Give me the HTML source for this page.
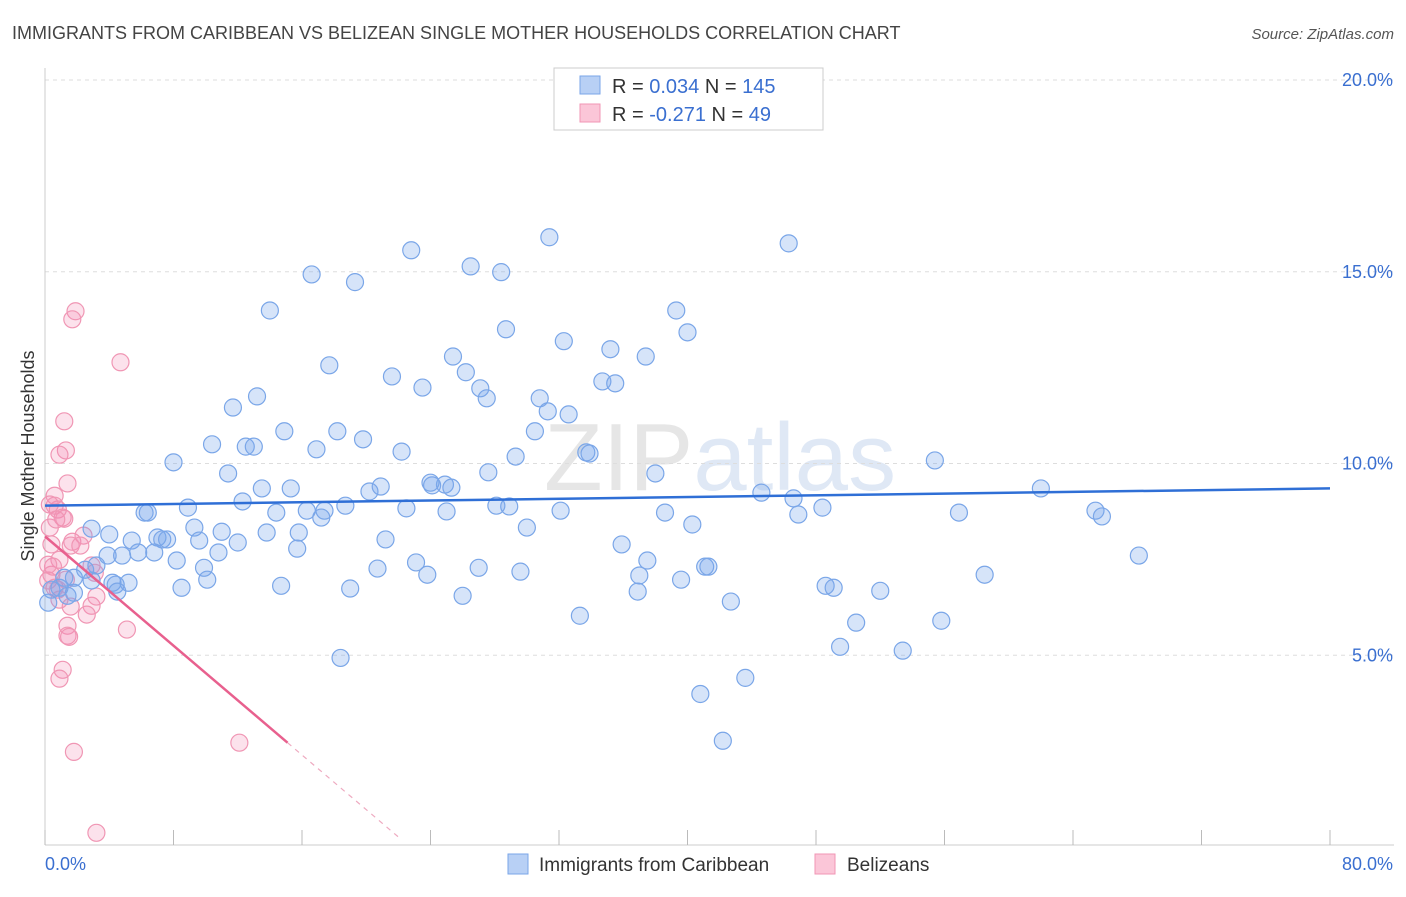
<!DOCTYPE html>
<html><head><meta charset="utf-8"><style>
body{margin:0;background:#fff;font-family:"Liberation Sans",sans-serif}
svg text{font-family:"Liberation Sans",sans-serif}
</style></head><body>
<svg id="chart" width="1406" height="892" xmlns="http://www.w3.org/2000/svg">
<text x="12" y="39" font-size="18" fill="#444">IMMIGRANTS FROM CARIBBEAN VS BELIZEAN SINGLE MOTHER HOUSEHOLDS CORRELATION CHART</text>
<text x="1394" y="39" font-size="15" fill="#555" text-anchor="end" font-style="italic">Source: ZipAtlas.com</text>
<text x="720" y="490" font-size="96" fill="#e6e6e6" text-anchor="middle" font-family="Liberation Serif">ZIP<tspan fill="#dfe8f5" font-family="Liberation Sans">atlas</tspan></text>
<g id="grid"></g><g id="axes"></g>
<text transform="translate(34,456) rotate(-90)" font-size="18" fill="#333" text-anchor="middle">Single Mother Households</text>
<g id="pink"></g><g id="blue"></g><g id="trends"></g>
<g>
<rect x="554" y="68" width="269" height="62" fill="#fff" stroke="#ccc"/>
<rect x="580" y="76" width="20" height="18" fill="#b8d0f5" stroke="#7aa6e8"/>
<rect x="580" y="104" width="20" height="18" fill="#fbc6d8" stroke="#f096b4"/>
<text x="612" y="93" font-size="20" fill="#333">R = <tspan fill="#3a6fd0">0.034</tspan>   N = <tspan fill="#3a6fd0">145</tspan></text>
<text x="612" y="121" font-size="20" fill="#333">R = <tspan fill="#3a6fd0">-0.271</tspan>   N = <tspan fill="#3a6fd0"> 49</tspan></text>
</g>
<g>
<rect x="508" y="854" width="20" height="20" fill="#b8d0f5" stroke="#7aa6e8"/>
<text x="539" y="871" font-size="19" fill="#333">Immigrants from Caribbean</text>
<rect x="815" y="854" width="20" height="20" fill="#fbc6d8" stroke="#f096b4"/>
<text x="847" y="871" font-size="19" fill="#333">Belizeans</text>
</g>
</svg>
<script>
const yTicks=[5,10,15,20];
const yTickLabels=["5.0%","10.0%","15.0%","20.0%"];
const xTickLabels=["0.0%","80.0%"];
const blueX=[22.8,31.4,46.3,16.6,19.3,26.5,28.4,14.0,28.7,32.3,39.3,40.0,35.2,25.4,37.4,17.7,26.2,21.6,23.5,27.1,34.7,35.5,27.5,13.2,30.8,11.7,31.3,32.6,30.5,14.9,18.2,19.8,10.4,12.5,13.0,16.9,22.2,8.0,29.3,33.7,33.9,55.4,27.6,38.0,11.4,24.0,24.9,24.1,25.3,20.2,20.9,13.5,15.3,12.3,8.9,18.7,28.1,28.9,22.5,6.2,6.4,14.4,16.3,17.4,17.2,25.0,32.1,38.6,44.6,46.6,46.9,48.4,56.9,62.0,65.4,65.8,68.1,2.9,4.0,9.3,11.0,15.8,13.8,12.0,21.2,30.0,40.3,5.4,7.0,7.3,7.6,9.6,15.7,10.8,3.9,4.8,5.8,6.8,35.9,37.5,41.1,41.3,8.2,9.9,3.2,20.7,23.1,27.0,29.6,2.5,23.8,37.0,39.6,58.5,1.8,2.9,4.2,5.2,4.4,10.1,8.5,14.7,19.0,26.0,36.9,48.6,49.1,52.0,1.8,0.4,0.9,42.7,33.3,50.5,55.8,49.5,53.4,18.4,40.8,43.6,42.2,0.2,1.2,4.5,1.4];
const blueY=[15.56,15.90,15.74,14.93,14.73,15.14,14.99,13.99,13.50,13.19,13.99,13.42,12.98,12.79,12.79,12.56,12.38,12.27,11.98,11.96,12.14,12.09,11.70,11.75,11.70,11.46,11.36,11.28,10.84,10.84,10.84,10.63,10.50,10.44,10.44,10.37,10.31,10.03,10.18,10.29,10.26,10.08,9.77,9.74,9.74,9.50,9.45,9.43,9.37,9.27,9.40,9.35,9.35,9.01,8.85,8.90,8.90,8.88,8.83,8.72,8.72,8.72,8.77,8.77,8.59,8.75,8.77,8.72,9.24,9.09,8.67,8.85,8.72,9.35,8.77,8.62,7.60,8.30,8.15,8.33,8.22,8.20,8.20,7.94,8.02,8.33,8.41,7.99,8.07,8.02,8.02,7.99,7.78,7.68,7.60,7.60,7.68,7.68,7.89,7.47,7.31,7.31,7.47,7.28,7.34,7.26,7.42,7.28,7.18,7.23,7.10,7.08,6.97,7.10,7.02,6.95,6.89,6.89,6.84,6.97,6.76,6.81,6.74,6.55,6.66,6.81,6.76,6.68,6.63,6.71,6.76,6.40,6.03,5.85,5.90,5.22,5.12,4.93,3.99,4.41,2.77,6.37,7.02,6.66,6.55];
const pinkX=[1.9,1.7,4.7,1.2,1.3,0.9,1.4,0.6,0.6,0.8,1.1,1.2,0.4,1.7,2.4,1.6,0.9,2.9,3.1,0.4,0.2,0.6,0.9,1.6,2.9,3.2,2.6,5.1,1.4,1.4,1.5,1.1,0.9,1.8,12.1,3.2,0.5,0.8,0.2,0.3,2.2,0.3,1.3,0.7];
const pinkY=[13.97,13.76,12.64,11.10,10.34,10.23,9.48,9.16,8.90,8.80,8.59,8.56,7.89,7.96,8.12,7.86,7.49,7.34,7.15,7.10,6.95,6.76,6.45,6.27,6.29,6.53,6.06,5.67,5.77,5.51,5.48,4.62,4.39,2.48,2.72,0.37,7.31,6.71,7.36,8.33,7.86,8.93,6.97,8.54];
const blueTrend=[8.9,9.35];
const pinkTrend=[8.1,2.72,15.1,0.2];
const NS="http://www.w3.org/2000/svg";
const X0=45,X1=1330,Y0=847,PPY=38.35;
const sx=v=>X0+(v/80)*(X1-X0);
const sy=v=>Y0-v*PPY;
function mk(tag,attrs,parent){const e=document.createElementNS(NS,tag);for(const k in attrs)e.setAttribute(k,attrs[k]);parent.appendChild(e);return e;}
const grid=document.getElementById('grid'),axes=document.getElementById('axes');
yTicks.forEach((t,i)=>{
 const l=mk('line',{x1:X0,x2:1394,y1:sy(t),y2:sy(t),stroke:'#ddd','stroke-dasharray':'4,4'},grid);
 
 
 const tx=mk('text',{x:1393,y:sy(t)+6,'font-size':18,fill:'#3a6fd0','text-anchor':'end'},axes);
 tx.textContent=yTickLabels[i];
 
 
});
const ax=mk('line',{x1:X0,x2:1394,y1:845,y2:845,stroke:'#ccc'},axes);


const ay=mk('line',{x1:X0,x2:X0,y1:68,y2:845,stroke:'#ccc'},axes);


for(let i=0;i<=10;i++){const tk=mk('line',{x1:sx(i*8),x2:sx(i*8),y1:830,y2:845,stroke:'#bbb'},axes);
 
 }
[[0,'start',45],[1,'end',1393]].forEach(([i,a,x])=>{const tx=mk('text',{x:x,y:870,'font-size':18,fill:'#3a6fd0','text-anchor':a},axes);tx.textContent=xTickLabels[i];
 
 });
const bg=document.getElementById('blue'),pg=document.getElementById('pink');
blueX.forEach((v,i)=>{const c=mk('circle',{cx:sx(v),cy:sy(blueY[i]),r:8.5,fill:'rgba(120,165,235,0.3)',stroke:'#7aa6e8','stroke-width':1.2},bg);
 
 });
pinkX.forEach((v,i)=>{const c=mk('circle',{cx:sx(v),cy:sy(pinkY[i]),r:8.5,fill:'rgba(245,140,180,0.25)',stroke:'#f096b4','stroke-width':1.2},pg);
 
 });
const tg=document.getElementById('trends');
const bt=mk('line',{x1:sx(0),y1:sy(blueTrend[0]),x2:sx(80),y2:sy(blueTrend[1]),stroke:'#2f6fd6','stroke-width':2.5},tg);


const pt=mk('line',{x1:sx(0),y1:sy(pinkTrend[0]),x2:sx(pinkTrend[2]),y2:sy(pinkTrend[1]),stroke:'#e8608e','stroke-width':2.5},tg);


const slope=(pinkTrend[1]-pinkTrend[0])/pinkTrend[2];
const xe=(pinkTrend[3]-pinkTrend[0])/slope;
const pd=mk('line',{x1:sx(pinkTrend[2]),y1:sy(pinkTrend[1]),x2:sx(xe),y2:sy(pinkTrend[3]),stroke:'#eeaac0','stroke-width':1.2,'stroke-dasharray':'5,5'},tg);


</script>
</body></html>
